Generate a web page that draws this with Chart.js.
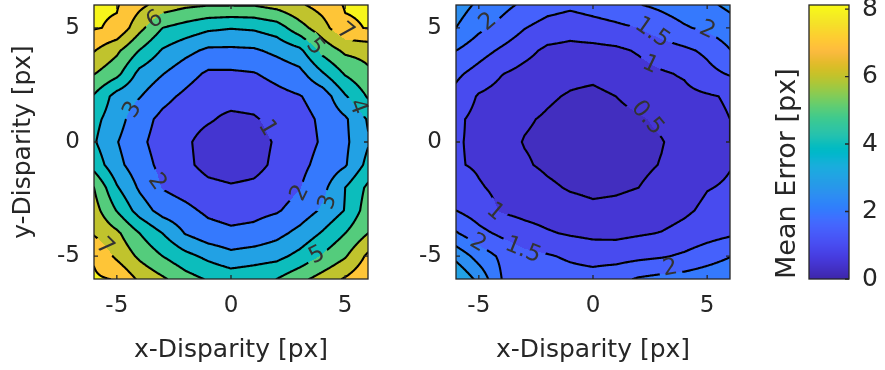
<!DOCTYPE html>
<html>
<head>
<meta charset="utf-8">
<script src="https://cdn.jsdelivr.net/npm/chart.js@4.4.0/dist/chart.umd.min.js"></script>
<style>
  html, body { margin: 0; padding: 0; background: #fff; }
  #wrap { position: relative; width: 885px; height: 370px; }
  #wrap canvas { position: absolute; top: 0; }
</style>
</head>
<body>
<div id="wrap">
  <canvas id="left" width="390" height="370" style="left:0"></canvas>
  <canvas id="right" width="370" height="370" style="left:390px"></canvas>
  <canvas id="bar" width="125" height="370" style="left:760px"></canvas>
</div>
<script>
// grid nodes in px, columns left to right
const disparity = [-6, -5, -4, -3, -2, -1, 0, 1, 2, 3, 4, 5, 6];
// rows run from y = +6 (top) down to y = -6
const rowDisparity = [6, 5, 4, 3, 2, 1, 0, -1, -2, -3, -4, -5, -6];

// mean error, left map
const leftError = [
  [8.12, 8.08, 7.25, 6.55, 6.20, 6.05, 6.05, 6.05, 6.35, 6.85, 7.40, 8.08, 8.12],
  [8.08, 7.85, 6.30, 5.00, 4.60, 4.20, 4.05, 4.15, 4.50, 5.60, 6.60, 7.85, 8.04],
  [7.05, 6.20, 4.95, 3.90, 3.30, 2.80, 2.80, 2.85, 3.25, 3.75, 5.30, 6.20, 6.35],
  [6.05, 5.30, 3.70, 3.05, 2.40, 1.85, 1.85, 1.95, 2.30, 2.70, 3.90, 5.10, 5.80],
  [4.90, 3.60, 3.05, 2.30, 1.80, 1.30, 1.35, 1.40, 1.70, 1.95, 2.40, 3.90, 5.10],
  [4.30, 3.40, 2.40, 1.75, 1.35, 1.10, 0.80, 0.90, 1.30, 1.70, 2.15, 2.85, 4.10],
  [4.10, 3.05, 2.20, 1.60, 1.15, 0.65, 0.45, 0.65, 1.10, 1.60, 2.10, 2.80, 3.90],
  [4.60, 3.30, 2.40, 1.75, 1.20, 0.70, 0.55, 0.70, 1.20, 1.75, 2.30, 2.90, 4.30],
  [6.00, 4.10, 2.85, 1.95, 1.60, 1.25, 1.10, 1.20, 1.50, 1.95, 2.70, 4.00, 5.20],
  [6.40, 4.95, 3.55, 2.60, 2.25, 1.80, 1.60, 1.70, 1.90, 2.40, 3.15, 4.05, 5.50],
  [6.90, 6.20, 5.00, 4.00, 2.95, 2.40, 2.20, 2.30, 2.70, 3.30, 4.10, 5.00, 6.00],
  [7.90, 6.80, 5.80, 5.00, 4.30, 3.75, 3.30, 3.50, 3.70, 4.30, 5.10, 5.90, 7.20],
  [8.12, 7.95, 6.80, 6.15, 5.40, 4.90, 4.60, 4.75, 5.00, 5.70, 6.40, 7.10, 7.80]
];

// mean error, right map
const rightError = [
  [2.75, 2.40, 2.15, 1.90, 1.70, 1.60, 1.70, 1.80, 1.98, 2.10, 2.25, 2.40, 2.60],
  [2.50, 2.10, 1.85, 1.52, 1.30, 1.20, 1.30, 1.40, 1.50, 1.75, 1.95, 2.10, 2.30],
  [2.00, 1.70, 1.42, 1.15, 0.90, 0.85, 0.85, 0.90, 1.05, 1.25, 1.40, 1.60, 1.98],
  [1.60, 1.32, 1.02, 0.85, 0.72, 0.62, 0.60, 0.70, 0.82, 0.95, 1.05, 1.35, 1.55],
  [1.35, 0.95, 0.80, 0.70, 0.56, 0.46, 0.40, 0.50, 0.66, 0.80, 0.88, 0.95, 1.05],
  [1.10, 0.85, 0.70, 0.55, 0.45, 0.35, 0.30, 0.35, 0.45, 0.58, 0.75, 0.88, 1.00],
  [1.05, 0.90, 0.65, 0.48, 0.40, 0.30, 0.25, 0.28, 0.38, 0.48, 0.65, 0.85, 1.00],
  [1.05, 0.93, 0.75, 0.55, 0.42, 0.32, 0.27, 0.30, 0.40, 0.52, 0.70, 0.85, 0.98],
  [1.35, 1.05, 0.88, 0.75, 0.58, 0.46, 0.40, 0.43, 0.50, 0.65, 0.80, 0.98, 1.05],
  [1.50, 1.25, 0.95, 0.85, 0.78, 0.68, 0.60, 0.63, 0.70, 0.78, 0.92, 1.10, 1.20],
  [2.05, 1.65, 1.40, 1.20, 1.05, 0.95, 0.88, 0.88, 0.95, 1.02, 1.15, 1.30, 1.42],
  [2.85, 2.30, 1.90, 1.65, 1.55, 1.42, 1.32, 1.30, 1.38, 1.45, 1.58, 1.78, 1.98],
  [3.50, 2.85, 2.00, 1.88, 1.80, 1.72, 1.70, 1.85, 2.05, 2.15, 2.20, 2.30, 2.40]
];

const leftLevels = [1, 2, 3, 4, 5, 6, 7, 8];
const rightLevels = [0.5, 1, 1.5, 2, 2.5, 3];

// contour labels: text, x, y, rotation in degrees
const leftLabels = [
  ['6', -3.33, 5.35, -34], ['7', 5.0, 4.82, 40], ['5', 3.68, 4.17, 50],
  ['4', 5.53, 1.54, 70], ['3', -4.3, 1.4, -60], ['1', 1.58, 0.61, 60],
  ['2', -3.25, -1.75, 55], ['2', 3.03, -2.24, -64], ['3', 4.25, -2.63, -75],
  ['5', 3.77, -4.96, -27], ['7', -5.53, -4.6, 45]
];
const rightLabels = [
  ['2', -4.6, 5.26, -40], ['1.5', 2.59, 4.78, 35], ['2', 5.0, 4.9, 25],
  ['1', 2.5, 3.38, 25], ['0.5', 2.37, 1.05, 50], ['1', -4.3, -3.07, 40],
  ['2', -5.04, -4.43, 30], ['1.5', -3.07, -4.74, 22], ['2', 3.38, -5.53, -10]
];

const axisTicks = [-5, 0, 5];
const colorTicks = [0, 2, 4, 6, 8];
const colorRange = [0, 8.12];

const inkColor = '#262626';
const tickFont = { family: 'DejaVu Sans', size: 23 };
const titleFont = { family: 'DejaVu Sans', size: 25 };
const contourLabelFont = '23px "DejaVu Sans"';

// parula colormap, 64 entries
const PARULA = [
  [0.2422,0.1504,0.6603],[0.2504,0.1650,0.7076],[0.2578,0.1818,0.7511],[0.2647,0.1978,0.7952],
  [0.2706,0.2147,0.8364],[0.2751,0.2342,0.8710],[0.2783,0.2559,0.8991],[0.2803,0.2782,0.9221],
  [0.2813,0.3006,0.9414],[0.2810,0.3228,0.9579],[0.2795,0.3447,0.9717],[0.2760,0.3667,0.9829],
  [0.2699,0.3892,0.9906],[0.2602,0.4123,0.9952],[0.2440,0.4358,0.9988],[0.2206,0.4603,0.9973],
  [0.1963,0.4847,0.9892],[0.1834,0.5074,0.9798],[0.1786,0.5289,0.9682],[0.1764,0.5499,0.9520],
  [0.1687,0.5703,0.9359],[0.1540,0.5902,0.9218],[0.1460,0.6091,0.9079],[0.1380,0.6276,0.8973],
  [0.1248,0.6459,0.8883],[0.1113,0.6635,0.8763],[0.0952,0.6798,0.8598],[0.0689,0.6948,0.8394],
  [0.0297,0.7082,0.8163],[0.0036,0.7203,0.7917],[0.0067,0.7312,0.7660],[0.0433,0.7411,0.7394],
  [0.0964,0.7500,0.7120],[0.1408,0.7584,0.6842],[0.1717,0.7670,0.6554],[0.1938,0.7758,0.6251],
  [0.2161,0.7843,0.5923],[0.2470,0.7918,0.5567],[0.2906,0.7973,0.5188],[0.3406,0.8008,0.4789],
  [0.3909,0.8029,0.4354],[0.4456,0.8024,0.3909],[0.5044,0.7993,0.3480],[0.5616,0.7942,0.3045],
  [0.6174,0.7876,0.2612],[0.6720,0.7793,0.2227],[0.7242,0.7698,0.1910],[0.7738,0.7598,0.1646],
  [0.8203,0.7498,0.1535],[0.8634,0.7406,0.1596],[0.9035,0.7330,0.1774],[0.9393,0.7288,0.2100],
  [0.9728,0.7298,0.2394],[0.9956,0.7434,0.2371],[0.9970,0.7659,0.2199],[0.9952,0.7893,0.2028],
  [0.9892,0.8136,0.1885],[0.9786,0.8386,0.1766],[0.9676,0.8639,0.1643],[0.9610,0.8890,0.1537],
  [0.9597,0.9135,0.1423],[0.9628,0.9373,0.1265],[0.9691,0.9606,0.1064],[0.9769,0.9839,0.0805]
];

function parula(v) {
  let t = (v - colorRange[0]) / (colorRange[1] - colorRange[0]);
  t = Math.min(1, Math.max(0, t));
  const f = t * (PARULA.length - 1);
  const i = Math.min(Math.floor(f), PARULA.length - 2);
  const u = f - i;
  return [0, 1, 2].map(k => Math.round(255 * (PARULA[i][k] + (PARULA[i + 1][k] - PARULA[i][k]) * u)));
}

// flatten a grid into scatter points {x, y, v}
function gridPoints(values) {
  const pts = [];
  rowDisparity.forEach((yv, r) => {
    disparity.forEach((xv, c) => pts.push({ x: xv, y: yv, v: values[r][c] }));
  });
  return pts;
}

// bilinear lookup over the unit grid
function sampler(points) {
  const z = {};
  points.forEach(p => { z[p.x + ',' + p.y] = p.v; });
  const lo = disparity[0], hi = disparity[disparity.length - 1];
  return (x, y) => {
    x = Math.min(hi, Math.max(lo, x));
    y = Math.min(hi, Math.max(lo, y));
    const i = Math.min(Math.floor(x), hi - 1), j = Math.min(Math.floor(y), hi - 1);
    const u = x - i, w = y - j;
    return z[i + ',' + j] * (1 - u) * (1 - w) + z[(i + 1) + ',' + j] * u * (1 - w) +
           z[i + ',' + (j + 1)] * (1 - u) * w + z[(i + 1) + ',' + (j + 1)] * u * w;
  };
}

function marchingSquares(grid, n, lo, hi, L, emit) {
  const step = (hi - lo) / n;
  for (let j = 0; j < n; j++) {
    for (let i = 0; i < n; i++) {
      const a = grid[j][i], b = grid[j][i + 1], c = grid[j + 1][i + 1], d = grid[j + 1][i];
      const x0 = lo + i * step, x1 = x0 + step, y0 = lo + j * step, y1 = y0 + step;
      const pts = [];
      const edge = (va, vb, xa, ya, xb, yb) => {
        if ((va < L) !== (vb < L)) {
          const t = (L - va) / (vb - va);
          pts.push([xa + (xb - xa) * t, ya + (yb - ya) * t]);
        }
      };
      edge(a, b, x0, y0, x1, y0);
      edge(b, c, x1, y0, x1, y1);
      edge(c, d, x1, y1, x0, y1);
      edge(d, a, x0, y1, x0, y0);
      if (pts.length === 2) emit(pts[0], pts[1]);
      else if (pts.length === 4) { emit(pts[0], pts[1]); emit(pts[2], pts[3]); }
    }
  }
}

function labelBox(ctx, cx, cy, txt, deg) {
  const w = ctx.measureText(txt).width + 8, h = 20;
  const r = deg * Math.PI / 180, c = Math.cos(r), s = Math.sin(r);
  return [[-w / 2, -h / 2], [w / 2, -h / 2], [w / 2, h / 2], [-w / 2, h / 2]]
    .map(([u, v]) => [cx + u * c - v * s, cy + u * s + v * c]);
}

// filled contour map with labelled level lines
const contourPlugin = {
  id: 'contourFill',
  beforeDatasetsDraw(chart, args, opts) {
    const { ctx, chartArea: a } = chart;
    const xs = chart.scales.x, ys = chart.scales.y;
    const pts = chart.data.datasets[0].data;
    const f = sampler(pts);
    const levels = Array.from(opts.levels);
    const vmin = Math.min(...pts.map(p => p.v));
    const bandColors = [vmin].concat(levels).map(v => parula(v));

    const w = Math.round(a.right - a.left), h = Math.round(a.bottom - a.top);
    const off = document.createElement('canvas');
    off.width = w; off.height = h;
    const octx = off.getContext('2d');
    const img = octx.createImageData(w, h);
    for (let j = 0; j < h; j++) {
      const yv = ys.getValueForPixel(a.top + j + 0.5);
      for (let i = 0; i < w; i++) {
        const v = f(xs.getValueForPixel(a.left + i + 0.5), yv);
        let k = 0;
        while (k < levels.length && v >= levels[k]) k++;
        const c = bandColors[k], o = (j * w + i) * 4;
        img.data[o] = c[0]; img.data[o + 1] = c[1]; img.data[o + 2] = c[2]; img.data[o + 3] = 255;
      }
    }
    octx.putImageData(img, 0, 0);
    ctx.drawImage(off, a.left, a.top);

    // level lines, cut where the labels go
    ctx.save();
    ctx.font = contourLabelFont;
    ctx.beginPath();
    ctx.rect(a.left, a.top, a.right - a.left, a.bottom - a.top);
    opts.labels.forEach(([txt, lx, ly, deg]) => {
      const box = labelBox(ctx, xs.getPixelForValue(lx), ys.getPixelForValue(ly), txt, deg);
      ctx.moveTo(box[0][0], box[0][1]);
      for (let q = 1; q < 4; q++) ctx.lineTo(box[q][0], box[q][1]);
      ctx.closePath();
    });
    ctx.clip('evenodd');

    const lo = disparity[0], hi = disparity[disparity.length - 1], n = 240;
    const grid = [];
    for (let j = 0; j <= n; j++) {
      const row = [];
      for (let i = 0; i <= n; i++) row.push(f(lo + (hi - lo) * i / n, lo + (hi - lo) * j / n));
      grid.push(row);
    }
    ctx.strokeStyle = '#000';
    ctx.lineWidth = 2.1;
    ctx.lineCap = 'round';
    levels.forEach(L => {
      ctx.beginPath();
      marchingSquares(grid, n, lo, hi, L, (p, q) => {
        ctx.moveTo(xs.getPixelForValue(p[0]), ys.getPixelForValue(p[1]));
        ctx.lineTo(xs.getPixelForValue(q[0]), ys.getPixelForValue(q[1]));
      });
      ctx.stroke();
    });
    ctx.restore();

    ctx.save();
    ctx.font = contourLabelFont;
    ctx.fillStyle = '#333';
    ctx.textAlign = 'center';
    ctx.textBaseline = 'middle';
    opts.labels.forEach(([txt, lx, ly, deg]) => {
      ctx.save();
      ctx.translate(xs.getPixelForValue(lx), ys.getPixelForValue(ly));
      ctx.rotate(deg * Math.PI / 180);
      ctx.fillText(txt, 0, 0);
      ctx.restore();
    });
    ctx.restore();
  },
  afterDraw(chart) {
    const { ctx, chartArea: a } = chart;
    const xs = chart.scales.x, ys = chart.scales.y;
    ctx.save();
    ctx.strokeStyle = inkColor;
    ctx.lineWidth = 1.3;
    ctx.beginPath();
    axisTicks.forEach(t => {
      const px = xs.getPixelForValue(t), py = ys.getPixelForValue(t);
      ctx.moveTo(px, a.bottom); ctx.lineTo(px, a.bottom - 4);
      ctx.moveTo(px, a.top); ctx.lineTo(px, a.top + 4);
      ctx.moveTo(a.left, py); ctx.lineTo(a.left + 4, py);
      ctx.moveTo(a.right, py); ctx.lineTo(a.right - 4, py);
    });
    ctx.stroke();
    ctx.strokeRect(a.left, a.top, a.right - a.left, a.bottom - a.top);
    ctx.restore();
  }
};

// continuous colour strip for the colorbar
const colorbarPlugin = {
  id: 'colorbar',
  beforeDatasetsDraw(chart) {
    const { ctx, chartArea: a } = chart;
    const ys = chart.scales.y;
    for (let py = a.top; py < a.bottom; py++) {
      const c = parula(ys.getValueForPixel(py + 0.5));
      ctx.fillStyle = 'rgb(' + c.join(',') + ')';
      ctx.fillRect(a.left, py, a.right - a.left, 1);
    }
  },
  afterDraw(chart) {
    const { ctx, chartArea: a } = chart;
    const ys = chart.scales.y;
    ctx.save();
    ctx.strokeStyle = inkColor;
    ctx.lineWidth = 1.3;
    ctx.beginPath();
    colorTicks.forEach(t => {
      const py = ys.getPixelForValue(t);
      ctx.moveTo(a.right, py); ctx.lineTo(a.right - 4, py);
    });
    ctx.stroke();
    ctx.strokeRect(a.left, a.top, a.right - a.left, a.bottom - a.top);
    ctx.restore();
  }
};

function fixedTicks(values) {
  return scale => { scale.ticks = values.map(v => ({ value: v })); };
}

function panelOptions(levels, labels, yTitle, padRight, yWidth) {
  return {
    responsive: false,
    animation: false,
    events: [],
    layout: { padding: { left: 0, right: padRight, top: 5, bottom: 0 } },
    plugins: {
      legend: { display: false },
      tooltip: { enabled: false },
      contourFill: { levels, labels }
    },
    scales: {
      x: {
        type: 'linear', min: -6, max: 6,
        grid: { display: false, drawTicks: false },
        border: { display: false },
        ticks: { font: tickFont, color: inkColor, padding: 13, maxRotation: 0 },
        afterBuildTicks: fixedTicks(axisTicks),
        afterFit: s => { s.height = 91; s.paddingLeft = 0; s.paddingRight = 0; },
        title: { display: true, text: 'x-Disparity [px]', font: titleFont, color: inkColor, padding: { top: 0, bottom: 5 } }
      },
      y: {
        type: 'linear', min: -6, max: 6,
        grid: { display: false, drawTicks: false },
        border: { display: false },
        ticks: { font: tickFont, color: inkColor, padding: 14 },
        afterBuildTicks: fixedTicks(axisTicks),
        afterFit: s => { s.width = yWidth; s.paddingTop = 0; s.paddingBottom = 0; },
        title: { display: !!yTitle, text: yTitle, font: titleFont, color: inkColor, padding: { top: 8.5, bottom: 0 } }
      }
    }
  };
}

new Chart(document.getElementById('left'), {
  type: 'scatter',
  data: { datasets: [{ data: gridPoints(leftError), pointRadius: 0 }] },
  options: panelOptions(leftLevels, leftLabels, 'y-Disparity [px]', 22, 94),
  plugins: [contourPlugin]
});

new Chart(document.getElementById('right'), {
  type: 'scatter',
  data: { datasets: [{ data: gridPoints(rightError), pointRadius: 0 }] },
  options: panelOptions(rightLevels, rightLabels, '', 30, 66),
  plugins: [contourPlugin]
});

new Chart(document.getElementById('bar'), {
  type: 'scatter',
  data: { datasets: [{ data: [], yAxisID: 'y' }] },
  options: {
    responsive: false,
    animation: false,
    events: [],
    layout: { padding: { left: 0, right: 0, top: 5, bottom: 91 } },
    plugins: { legend: { display: false }, tooltip: { enabled: false } },
    scales: {
      x: { type: 'linear', display: false, min: 0, max: 1 },
      y: {
        type: 'linear', position: 'right', min: colorRange[0], max: colorRange[1],
        grid: { display: false, drawTicks: false },
        border: { display: false },
        ticks: { font: { family: 'DejaVu Sans', size: 25 }, color: inkColor, padding: 13 },
        afterBuildTicks: fixedTicks(colorTicks),
        afterFit: s => { s.width = 36; s.paddingTop = 0; s.paddingBottom = 0; }
      },
      yTitle: {
        type: 'linear', axis: 'y', position: 'left', min: colorRange[0], max: colorRange[1],
        grid: { display: false, drawTicks: false },
        border: { display: false },
        ticks: { display: false },
        afterFit: s => { s.width = 49; s.paddingTop = 0; s.paddingBottom = 0; },
        title: {
          display: true, text: 'Mean Error [px]', align: 'start',
          font: { family: 'DejaVu Sans', size: 27 }, color: inkColor, padding: { top: 11.8, bottom: 0 }
        }
      }
    }
  },
  plugins: [colorbarPlugin]
});
</script>
</body>
</html>
